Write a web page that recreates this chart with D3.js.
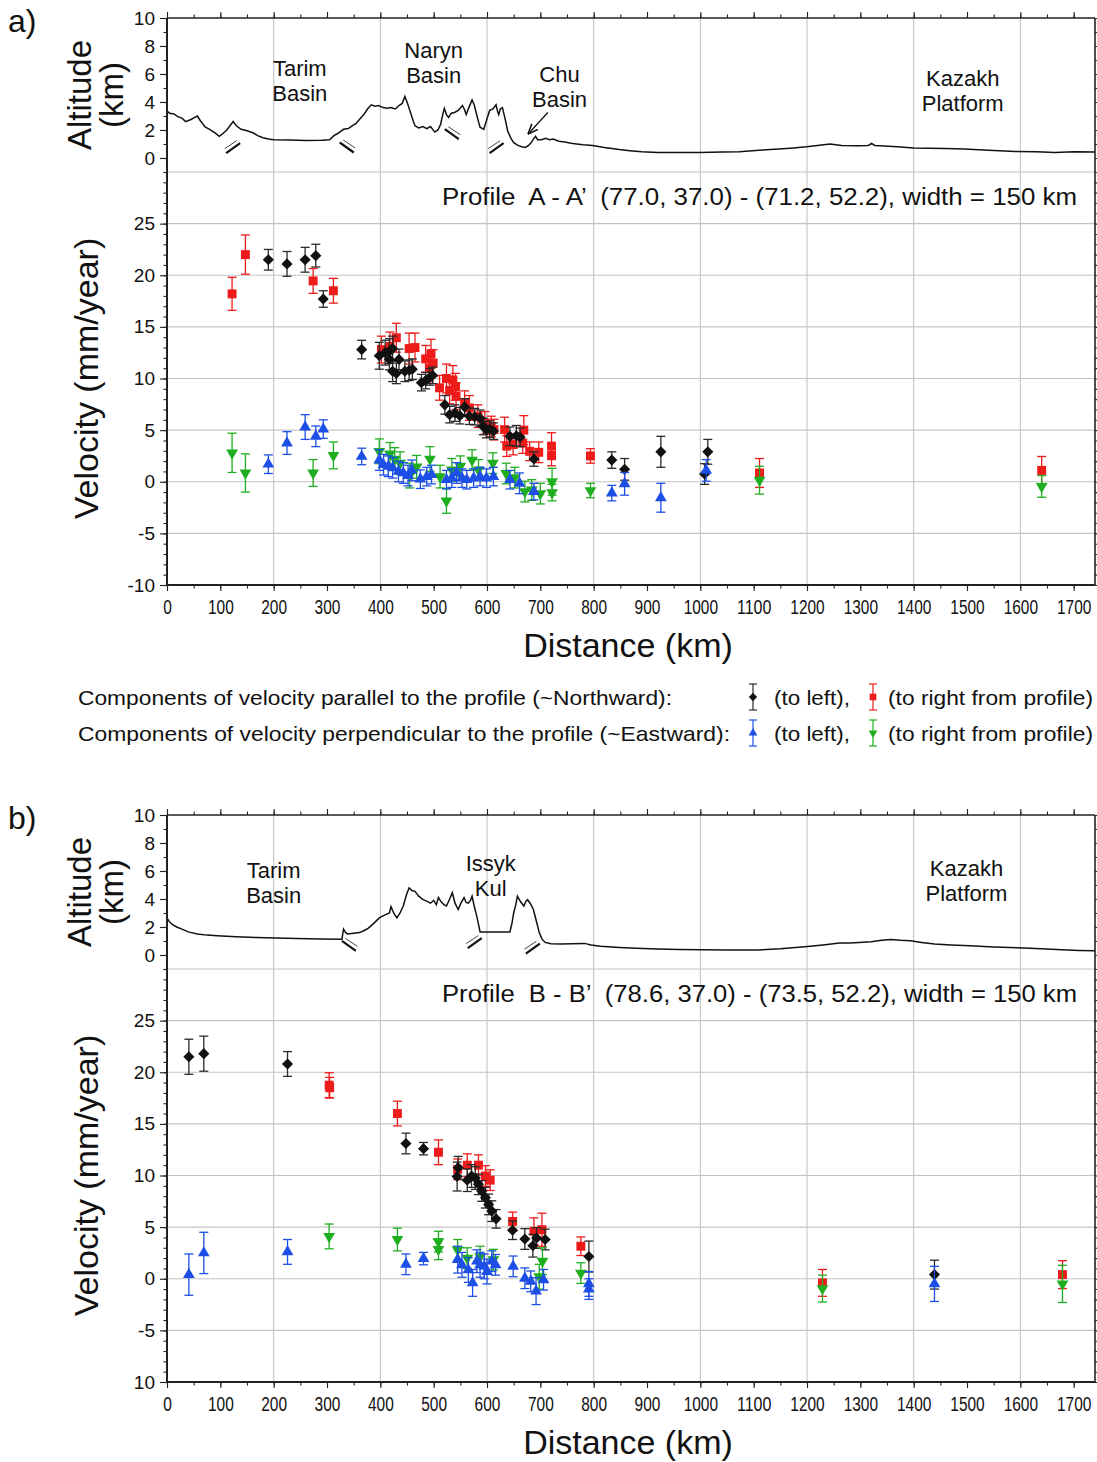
<!DOCTYPE html>
<html lang="en">
<head>
<meta charset="UTF-8">
<title>Velocity profiles A-A' and B-B'</title>
<style>
  * { margin: 0; padding: 0; }
  html, body { overflow: hidden; background: #fff; }
  text { font-family: 'Liberation Sans', Arial, Helvetica, sans-serif; fill: #111; }
</style>
</head>
<body>
<div id="chart"></div>
<script src="https://cdn.jsdelivr.net/npm/d3@7/dist/d3.min.js"></script>
<script>
// ---- axes / ticks ----
const distTicks = [0, 100, 200, 300, 400, 500, 600, 700, 800, 900, 1000, 1100, 1200, 1300, 1400, 1500, 1600, 1700]
const gridKm = [200, 400, 600, 800, 1000, 1200, 1400, 1600]
const altTicks = [0, 2, 4, 6, 8, 10]
const velTicks = [25, 20, 15, 10, 5, 0, -5, -10]
const velTickLabelsA = ['25', '20', '15', '10', '5', '0', '-5', '-10']
const velTickLabelsB = ['25', '20', '15', '10', '5', '0', '-5', '10']
const gridVel = [30, 25, 20, 15, 10, 5, 0, -5]

// ---- topography along profiles: [km, altitude km] ----
const altA = [[0,3.35],[5,3.2],[13,3.15],[20,2.95],[28,2.85],[35,2.6],[45,2.75],[52,2.9],[57,3.0],[62,2.7],[72,2.2],[80,2.05],[90,1.8],[98,1.55],[105,1.75],[112,2.0],[118,2.3],[124,2.6],[130,2.3],[139,2.05],[150,1.95],[161,1.8],[170,1.6],[180,1.45],[190,1.35],[200,1.3],[230,1.28],[260,1.25],[290,1.27],[305,1.3],[313,1.6],[320,1.75],[331,2.05],[340,2.1],[347,2.3],[354,2.45],[362,2.8],[369,3.1],[376,3.5],[383,3.8],[390,3.7],[397,3.75],[405,3.6],[413,3.55],[420,3.6],[428,3.5],[435,3.75],[441,3.9],[446,4.4],[451,3.9],[457,3.2],[462,2.6],[465,2.3],[472,2.15],[480,2.25],[487,2.1],[494,2.25],[502,1.85],[508,2.0],[513,2.4],[517,3.1],[520,3.55],[524,3.1],[528,2.9],[533,3.2],[539,3.25],[546,3.4],[554,3.75],[558,3.45],[561,3.1],[566,3.6],[572,4.15],[576,3.8],[580,3.2],[584,2.6],[587,2.2],[594,2.05],[600,2.8],[605,3.4],[611,3.5],[617,3.8],[620,3.3],[622,3.1],[625,3.5],[629,3.6],[634,2.8],[639,1.9],[645,1.4],[650,1.1],[658,0.9],[665,0.8],[672,0.75],[678,0.9],[683,1.1],[688,1.4],[691,1.55],[695,1.3],[702,1.3],[710,1.4],[717,1.3],[724,1.35],[735,1.2],[746,1.15],[758,1.05],[768,1.0],[780,0.95],[798,0.9],[820,0.75],[848,0.6],[868,0.52],[890,0.45],[920,0.4],[960,0.4],[1000,0.4],[1040,0.42],[1073,0.45],[1110,0.55],[1147,0.64],[1175,0.72],[1199,0.8],[1220,0.9],[1243,1.0],[1265,0.9],[1295,0.87],[1315,0.9],[1321,1.05],[1327,0.9],[1345,0.85],[1369,0.8],[1400,0.72],[1428,0.7],[1460,0.68],[1495,0.64],[1540,0.55],[1591,0.47],[1630,0.45],[1665,0.4],[1700,0.45],[1740,0.43]]
const altB = [[0,2.65],[4,2.4],[9,2.2],[18,2.0],[28,1.85],[40,1.65],[57,1.5],[75,1.42],[94,1.37],[130,1.3],[168,1.25],[205,1.22],[243,1.18],[290,1.15],[328,1.13],[331,1.85],[335,1.6],[339,1.5],[350,1.55],[361,1.6],[370,1.75],[377,1.9],[383,2.1],[390,2.35],[398,2.65],[408,2.85],[417,3.0],[420,3.45],[425,3.0],[431,2.65],[437,3.0],[443,3.5],[449,4.3],[454,4.8],[459,4.6],[465,4.55],[472,4.2],[480,3.95],[487,3.85],[494,3.7],[500,3.9],[505,3.6],[509,4.1],[514,3.8],[519,3.6],[524,3.5],[530,4.0],[535,4.45],[540,3.7],[546,3.25],[551,3.7],[557,4.1],[561,3.75],[565,3.7],[569,3.9],[572,4.2],[576,3.5],[580,2.9],[584,2.2],[587,1.65],[600,1.65],[620,1.65],[643,1.65],[647,2.3],[650,3.0],[654,3.6],[657,4.2],[663,3.8],[669,3.5],[673,3.85],[676,3.95],[681,3.7],[687,3.25],[692,2.5],[698,1.6],[703,1.15],[709,0.9],[720,0.8],[739,0.78],[760,0.8],[783,0.83],[795,0.72],[813,0.62],[848,0.54],[880,0.48],[920,0.43],[960,0.4],[1002,0.38],[1050,0.36],[1105,0.35],[1150,0.45],[1201,0.61],[1230,0.72],[1261,0.85],[1280,0.85],[1298,0.9],[1320,0.95],[1340,1.05],[1357,1.1],[1375,1.05],[1394,1.02],[1415,0.9],[1439,0.78],[1470,0.72],[1506,0.66],[1550,0.58],[1606,0.5],[1640,0.45],[1677,0.38],[1710,0.33],[1740,0.3]]

// ---- GPS velocities: [km, velocity mm/yr, error] ----
const aParLeft = [[190,21.5,1.0],[225,21.1,1.2],[259,21.5,1.2],[279,21.9,1.1],[293,17.7,0.8],[365,12.8,0.9],[398,12.2,1.3],[409,12.5,1.2],[417,12.65,1.2],[423,12.9,1.2],[417,11.85,1.0],[435,11.85,1.0],[423,10.7,1.0],[430,10.5,1.0],[446,10.7,1.0],[454,10.8,1.0],[460,10.9,1.0],[477,9.6,0.8],[485,9.8,0.8],[493,10.15,0.8],[498,10.3,0.8],[521,7.45,0.9],[530,6.5,0.8],[540,6.65,0.8],[549,6.4,0.8],[558,7.25,0.8],[567,6.35,0.8],[577,6.3,0.8],[587,6.15,0.8],[593,5.35,0.8],[599,5.05,0.8],[605,5.1,0.8],[612,4.9,0.8],[643,4.4,0.9],[655,4.45,1.0],[662,4.3,0.9],[688,2.2,0.7],[834,2.1,0.8],[858,1.2,1.05],[926,2.9,1.5],[1014,2.9,1.2],[1008,0.75,1.0]]
const aParRight = [[122,18.2,1.6],[147,22.0,1.9],[274,19.45,1.2],[312,18.5,1.2],[402,12.8,1.3],[418,13.1,1.4],[430,13.95,1.4],[454,12.9,1.5],[465,13.0,1.4],[485,11.9,1.3],[495,12.4,1.4],[499,11.5,1.3],[492,11.0,1.3],[511,9.1,1.2],[524,10.0,1.4],[536,9.85,1.4],[530,8.85,1.3],[541,9.2,1.3],[542,8.3,1.3],[558,7.6,1.2],[567,7.15,1.2],[583,6.35,1.1],[596,5.7,1.1],[608,5.35,1.0],[613,5.05,1.0],[633,5.05,1.2],[637,3.45,1.0],[649,3.6,1.0],[669,5.0,1.4],[667,3.75,1.0],[680,2.95,0.9],[697,2.85,1.0],[721,3.45,1.3],[721,2.55,1.0],[794,2.5,0.7],[1111,0.85,1.4],[1640,1.1,1.35]]
const aPerpLeft = [[190,1.7,0.9],[225,3.75,1.1],[259,5.3,1.2],[279,4.4,1.0],[293,5.1,0.9],[365,2.45,0.8],[398,2.1,1.0],[406,1.65,1.0],[415,1.5,1.0],[423,1.35,1.0],[434,1.0,1.0],[443,0.85,1.0],[452,0.6,1.0],[459,1.1,1.0],[475,0.25,0.9],[487,0.5,0.9],[496,0.7,0.9],[524,0.2,0.9],[534,0.35,0.9],[543,0.85,1.0],[553,0.35,0.9],[562,0.2,0.9],[575,0.35,0.9],[587,0.5,0.9],[599,0.35,0.9],[612,0.5,0.9],[643,0.2,0.9],[661,-0.15,1.0],[688,-0.95,0.8],[834,-1.1,0.75],[858,-0.2,1.1],[926,-1.55,1.4],[1011,1.1,1.05]]
const aPerpRight = [[122,2.8,1.9],[147,0.85,1.85],[274,0.85,1.3],[312,2.55,1.3],[398,2.95,1.2],[418,2.7,1.1],[427,2.2,1.1],[437,1.8,1.1],[455,0.6,1.2],[468,1.45,1.1],[493,2.2,1.2],[512,0.5,1.1],[524,-1.85,1.2],[534,1.15,1.1],[550,1.5,1.0],[572,2.1,1.0],[584,1.15,1.0],[611,1.8,1.0],[636,0.8,1.0],[652,0.4,1.0],[671,-0.95,1.0],[684,-0.8,1.0],[700,-1.15,1.0],[722,0.0,1.3],[722,-1.05,0.8],[794,-0.85,0.7],[1111,0.15,1.35],[1640,-0.45,1.05]]

const bParLeft = [[41,21.5,1.7],[69,21.8,1.7],[226,20.8,1.2],[448,13.1,1.0],[481,12.6,0.6],[546,10.75,1.1],[544,9.9,1.4],[563,9.55,1.1],[571,9.95,1.1],[578,9.75,1.1],[584,9.15,1.0],[590,8.5,1.0],[597,7.85,1.0],[603,7.2,1.0],[609,6.55,1.0],[617,5.8,0.9],[648,4.7,0.9],[671,3.85,1.0],[686,3.2,1.1],[693,3.95,1.0],[709,3.8,1.0],[791,2.15,1.5],[1439,0.4,1.4]]
const bParRight = [[304,18.75,1.2],[305,18.5,1.0],[432,16.0,1.2],[509,12.25,1.2],[545,10.6,1.0],[563,11.0,1.1],[584,11.0,1.0],[597,9.95,1.0],[606,9.55,1.0],[648,5.55,0.9],[688,4.6,1.3],[703,4.75,1.6],[776,3.15,0.9],[1229,-0.4,1.3],[1679,0.4,1.35]]
const bPerpLeft = [[41,0.4,2.0],[69,2.5,2.0],[226,2.6,1.2],[448,1.4,1.0],[481,1.95,0.6],[545,1.85,1.3],[553,1.35,1.2],[565,0.85,1.2],[573,-0.4,1.3],[581,1.7,1.1],[587,1.35,1.2],[595,1.2,1.2],[600,0.7,1.2],[609,1.7,1.0],[616,1.35,1.0],[649,1.2,1.0],[671,0.05,1.0],[682,-0.25,1.0],[692,-1.2,1.3],[706,-0.1,1.0],[791,-0.5,1.2],[791,-1.0,1.0],[1439,-0.5,1.7]]
const bPerpRight = [[304,4.1,1.2],[432,3.8,1.1],[509,3.6,1.0],[509,2.85,1.0],[545,2.8,1.0],[563,2.0,1.0],[587,2.15,1.0],[612,1.85,1.0],[704,1.7,1.3],[698,0.2,1.2],[776,0.55,1.0],[1229,-0.95,1.3],[1679,-0.5,1.8]]

// ---- annotations ----
const regionsA = [
  { km: 249, alt: 6.4, lines: ['Tarim', 'Basin'] },
  { km: 500, alt: 7.7, lines: ['Naryn', 'Basin'] },
  { km: 736, alt: 6.0, lines: ['Chu', 'Basin'] },
  { km: 1492, alt: 5.7, lines: ['Kazakh', 'Platform'] }
]
const regionsB = [
  { km: 200, alt: 6.1, lines: ['Tarim', 'Basin'] },
  { km: 607, alt: 6.55, lines: ['Issyk', 'Kul'] },
  { km: 1499, alt: 6.25, lines: ['Kazakh', 'Platform'] }
]
const faultsA = [[124, 0.7, 1], [337, 0.75, -1], [534, 1.7, -1], [618, 0.7, 1]]
const faultsB = [[341, 0.65, -1], [577, 0.85, 1], [686, 0.45, 1]]

const styles = {
  parLeft: { color: '#111', bar: '#2a2a2a', type: 'diamond' },
  parRight: { color: '#ee1b1b', bar: '#ee1b1b', type: 'square' },
  perpLeft: { color: '#1d4fe6', bar: '#1d4fe6', type: 'up' },
  perpRight: { color: '#1fae1f', bar: '#1fae1f', type: 'down' }
}

const x = d3.scaleLinear().domain([0, 1740]).range([167, 1095])

function symbolPath(type, big) {
  const k = big ? 1 : 0.55
  if (type === 'diamond') return d3.symbol().type(d3.symbolSquare).size(62 * k)()
  if (type === 'square') return d3.symbol().type(d3.symbolSquare).size(80 * k)()
  return d3.symbol().type(d3.symbolTriangle).size(60 * k)()
}
function symbolRotate(type) {
  if (type === 'diamond') return 45
  if (type === 'down') return 180
  return 0
}

function drawSeries(g, data, st, velY) {
  const sg = g.append('g')
  sg.selectAll('line.bar').data(data).join('line')
    .attr('x1', d => x(d[0])).attr('x2', d => x(d[0]))
    .attr('y1', d => velY(d[1] - d[2])).attr('y2', d => velY(d[1] + d[2]))
    .attr('stroke', st.bar).attr('stroke-width', 1.3)
  ;[-1, 1].forEach(s => {
    sg.selectAll('line.cap' + (s > 0 ? 'u' : 'd')).data(data).join('line')
      .attr('x1', d => x(d[0]) - 4.5).attr('x2', d => x(d[0]) + 4.5)
      .attr('y1', d => velY(d[1] + s * d[2])).attr('y2', d => velY(d[1] + s * d[2]))
      .attr('stroke', st.bar).attr('stroke-width', 1.3)
  })
  sg.selectAll('path').data(data).join('path')
    .attr('d', symbolPath(st.type, true))
    .attr('transform', d => `translate(${x(d[0])},${velY(d[1])}) rotate(${symbolRotate(st.type)})`)
    .attr('fill', st.color)
}

function drawPanel(svg, p) {
  const top = p.top
  const bottom = top + 567
  const left = x.range()[0], right = x.range()[1]
  const altY = d3.scaleLinear().domain([-1, 10]).range([top + 154, top])
  const velY = d3.scaleLinear().domain([-10, 30]).range([bottom, top + 154])
  const g = svg.append('g')

  // grid
  g.append('g').selectAll('line').data(gridKm).join('line')
    .attr('x1', d => x(d)).attr('x2', d => x(d)).attr('y1', top).attr('y2', bottom)
    .attr('stroke', '#c4c4c4').attr('stroke-width', 1.1)
  g.append('g').selectAll('line').data(gridVel).join('line')
    .attr('x1', left).attr('x2', right).attr('y1', d => velY(d)).attr('y2', d => velY(d))
    .attr('stroke', '#c4c4c4').attr('stroke-width', 1.1)

  // topography
  g.append('path').datum(p.alt)
    .attr('d', d3.line().x(d => x(d[0])).y(d => altY(d[1])))
    .attr('fill', 'none').attr('stroke', '#111').attr('stroke-width', 1.5)

  // fault symbols
  p.faults.forEach(f => {
    const cx = x(f[0]), cy = altY(f[1]), s = f[2]
    g.append('line').attr('x1', cx - 7).attr('y1', cy + 5 * s).attr('x2', cx + 7).attr('y2', cy - 5 * s)
      .attr('stroke', '#111').attr('stroke-width', 2.2)
    const ox = s > 0 ? -2.5 : 2.5, oy = -3.5
    g.append('line').attr('x1', cx - 6 + ox).attr('y1', cy + 4 * s + oy).attr('x2', cx + 6 + ox).attr('y2', cy - 4 * s + oy)
      .attr('stroke', '#444').attr('stroke-width', 1)
  })

  // region labels
  p.regions.forEach(r => {
    const t = g.append('text').attr('x', x(r.km)).attr('y', altY(r.alt))
      .attr('text-anchor', 'middle').attr('dominant-baseline', 'central').style('font-size', '22px')
    r.lines.forEach((s, i) => t.append('tspan').attr('x', x(r.km)).attr('dy', i ? 25 : 0).text(s))
  })

  if (p.arrow) {
    g.append('line')
      .attr('x1', x(p.arrow[0])).attr('y1', altY(p.arrow[1]))
      .attr('x2', x(p.arrow[2])).attr('y2', altY(p.arrow[3]))
      .attr('stroke', '#111').attr('stroke-width', 1.3).attr('marker-end', 'url(#arrowhead)')
  }

  // velocity series
  drawSeries(g, p.parRight, styles.parRight, velY)
  drawSeries(g, p.parLeft, styles.parLeft, velY)
  drawSeries(g, p.perpRight, styles.perpRight, velY)
  drawSeries(g, p.perpLeft, styles.perpLeft, velY)

  // axes
  const axAlt = g.append('g').attr('transform', `translate(${left},0)`)
    .call(d3.axisLeft(altY).tickValues(altTicks).tickSize(7).tickSizeOuter(0).tickPadding(5))
  g.append('g').attr('transform', `translate(${left},0)`)
    .call(d3.axisLeft(altY).tickValues(d3.range(-1, 11)).tickSize(3.5).tickFormat(''))
  const axVel = g.append('g').attr('transform', `translate(${left},0)`)
    .call(d3.axisLeft(velY).tickValues(velTicks).tickSize(7).tickSizeOuter(0).tickPadding(5)
      .tickFormat((d, i) => p.velLabels[i]))
  g.append('g').attr('transform', `translate(${left},0)`)
    .call(d3.axisLeft(velY).tickValues(d3.range(-10, 31)).tickSize(3.5).tickFormat(''))
  ;[axAlt, axVel].forEach(a => a.selectAll('text').style('font-size', '19px').attr('fill', '#111'))

  const axBot = g.append('g').attr('transform', `translate(0,${bottom})`)
    .call(d3.axisBottom(x).tickValues(distTicks).tickSize(6).tickSizeOuter(0).tickPadding(9)
      .tickFormat(d3.format('d')))
  axBot.selectAll('text').style('font-size', '20px').attr('fill', '#111')
    .attr('textLength', d => String(d).length * 8.6).attr('lengthAdjust', 'spacingAndGlyphs')
  g.append('g').attr('transform', `translate(0,${bottom})`)
    .call(d3.axisBottom(x).tickValues(d3.range(0, 1741, 50)).tickSize(3.5).tickFormat(''))
  g.append('g').attr('transform', `translate(0,${top})`)
    .call(d3.axisTop(x).tickValues(distTicks).tickSize(6).tickFormat(''))
  g.append('g').attr('transform', `translate(0,${top})`)
    .call(d3.axisTop(x).tickValues(d3.range(0, 1741, 50)).tickSize(3.5).tickFormat(''))
  g.append('g').attr('transform', `translate(${right},0)`)
    .call(d3.axisRight(altY).tickValues(d3.range(-1, 11)).tickSize(3.5).tickFormat(''))
  g.append('g').attr('transform', `translate(${right},0)`)
    .call(d3.axisRight(velY).tickValues(d3.range(-10, 31)).tickSize(3.5).tickFormat(''))
  g.selectAll('.domain').remove()
  g.selectAll('.tick line').attr('stroke', '#222').attr('stroke-width', 1.1)

  // frame
  g.append('line').attr('x1', left).attr('x2', right).attr('y1', top).attr('y2', top)
    .attr('stroke', '#222').attr('stroke-width', 1.6)
  g.append('line').attr('x1', right).attr('x2', right).attr('y1', top).attr('y2', bottom)
    .attr('stroke', '#222').attr('stroke-width', 1.6)
  g.append('line').attr('x1', left).attr('x2', left).attr('y1', top).attr('y2', bottom)
    .attr('stroke', '#222').attr('stroke-width', 2)
  g.append('line').attr('x1', left - 1).attr('x2', right).attr('y1', bottom).attr('y2', bottom)
    .attr('stroke', '#222').attr('stroke-width', 2)

  // titles
  g.append('text').attr('x', 8).attr('y', top + 14).style('font-size', '32px').text(p.letter)
  g.append('text').attr('transform', `translate(91,${top + 77}) rotate(-90)`)
    .attr('text-anchor', 'middle').style('font-size', '33px').text('Altitude')
  g.append('text').attr('transform', `translate(123,${top + 77}) rotate(-90)`)
    .attr('text-anchor', 'middle').style('font-size', '33px').text('(km)')
  g.append('text').attr('transform', `translate(98,${(top + 154 + bottom) / 2}) rotate(-90)`)
    .attr('text-anchor', 'middle').style('font-size', '34px').text('Velocity (mm/year)')
  g.append('text').attr('x', 628).attr('y', bottom + 72)
    .attr('text-anchor', 'middle').style('font-size', '34px').text('Distance (km)')
  g.append('text').attr('x', 442).attr('y', top + 187)
    .style('font-size', '23px').style('white-space', 'pre')
    .attr('textLength', 635).attr('lengthAdjust', 'spacingAndGlyphs').text(p.profile)
}

function drawLegend(svg) {
  const rows = [
    { y: 697, label: 'Components of velocity parallel to the profile (~Northward):', w: 594, a: styles.parLeft, b: styles.parRight },
    { y: 733, label: 'Components of velocity perpendicular to the profile (~Eastward):', w: 652, a: styles.perpLeft, b: styles.perpRight }
  ]
  const g = svg.append('g')
  rows.forEach(r => {
    g.append('text').attr('x', 78).attr('y', r.y).attr('dominant-baseline', 'central')
      .style('font-size', '21px').attr('textLength', r.w).attr('lengthAdjust', 'spacingAndGlyphs').text(r.label)
    ;[[753, r.a, '(to left),', 774, 76], [873, r.b, '(to right from profile)', 888, 205]].forEach(e => {
      const cx = e[0], st = e[1]
      g.append('line').attr('x1', cx).attr('x2', cx).attr('y1', r.y - 13).attr('y2', r.y + 13)
        .attr('stroke', st.bar).attr('stroke-width', 1.2)
      ;[-13, 13].forEach(o => g.append('line').attr('x1', cx - 4).attr('x2', cx + 4)
        .attr('y1', r.y + o).attr('y2', r.y + o).attr('stroke', st.bar).attr('stroke-width', 1.2))
      g.append('path').attr('d', symbolPath(st.type, false))
        .attr('transform', `translate(${cx},${r.y}) rotate(${symbolRotate(st.type)})`).attr('fill', st.color)
      g.append('text').attr('x', e[3]).attr('y', r.y).attr('dominant-baseline', 'central')
        .style('font-size', '21px').attr('textLength', e[4]).attr('lengthAdjust', 'spacingAndGlyphs').text(e[2])
    })
  })
}

function drawChart() {
  const width = 1097, height = 1462
  const svg = d3.select('#chart').append('svg')
    .attr('width', width).attr('height', height).style('background', '#fff')

  svg.append('defs').append('marker').attr('id', 'arrowhead')
    .attr('viewBox', '0 0 10 10').attr('refX', 9).attr('refY', 5)
    .attr('markerWidth', 8).attr('markerHeight', 8).attr('orient', 'auto')
    .append('path').attr('d', 'M0,1 L10,5 L0,9').attr('fill', 'none').attr('stroke', '#111').attr('stroke-width', 1.5)

  drawPanel(svg, {
    top: 18, letter: 'a)', alt: altA, regions: regionsA, faults: faultsA, arrow: [714, 3.25, 678, 1.75],
    velLabels: velTickLabelsA,
    profile: 'Profile  A - A\u2019  (77.0, 37.0) - (71.2, 52.2), width = 150 km',
    parLeft: aParLeft, parRight: aParRight, perpLeft: aPerpLeft, perpRight: aPerpRight
  })
  drawPanel(svg, {
    top: 815, letter: 'b)', alt: altB, regions: regionsB, faults: faultsB, arrow: null,
    velLabels: velTickLabelsB,
    profile: 'Profile  B - B\u2019  (78.6, 37.0) - (73.5, 52.2), width = 150 km',
    parLeft: bParLeft, parRight: bParRight, perpLeft: bPerpLeft, perpRight: bPerpRight
  })
  drawLegend(svg)
}

drawChart()
</script>
</body>
</html>
